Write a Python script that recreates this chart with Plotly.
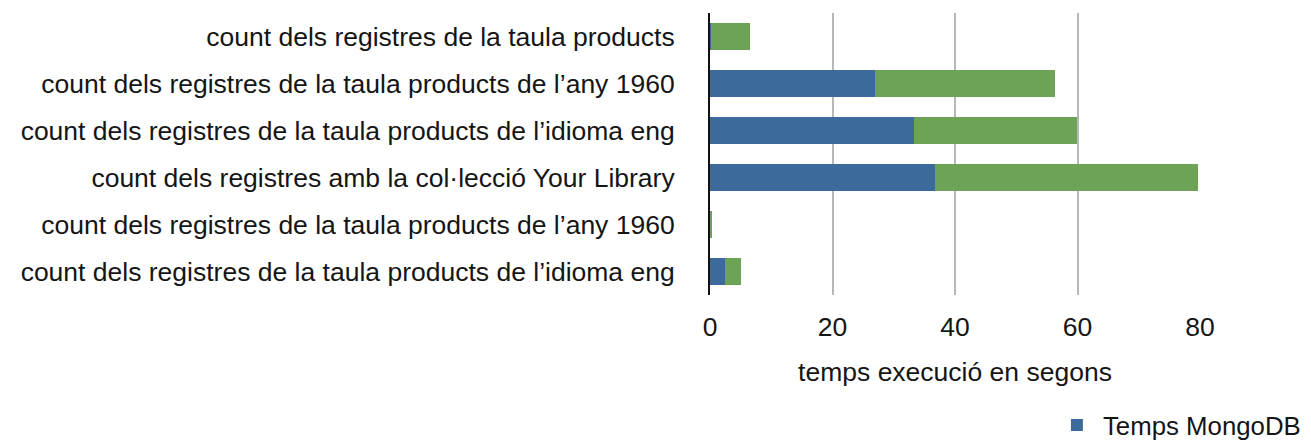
import plotly.graph_objects as go

categories = [
    "count dels registres de la taula products",
    "count dels registres de la taula products de l’any 1960",
    "count dels registres de la taula products de l’idioma eng",
    "count dels registres amb la col·lecció Your Library",
    "count dels registres de la taula products de l’any 1960",
    "count dels registres de la taula products de l’idioma eng",
]
temps_mongodb = [0.1, 27.0, 33.3, 36.7, 0.0, 2.4]
temps_altre = [6.5, 29.4, 26.6, 43.0, 0.3, 2.6]

# numeric positions, because two labels repeat
pos = list(range(1, len(categories) + 1))

fig = go.Figure()
fig.add_trace(go.Bar(
    y=pos, x=temps_mongodb, orientation="h",
    name="Temps MongoDB", marker=dict(color="#3c6a9a", line=dict(width=0)),
))
fig.add_trace(go.Bar(
    y=pos, x=temps_altre, orientation="h",
    name="Temps", showlegend=False,
    marker=dict(color="#6da357", line=dict(width=0)),
))

fig.update_layout(
    barmode="stack",
    bargap=0.44,
    width=1311, height=440,
    margin=dict(l=702, r=119, t=5, b=153),
    paper_bgcolor="white", plot_bgcolor="white",
    font=dict(family="Liberation Sans, Arial, sans-serif", size=26.5, color="#151515"),
    legend=dict(
        orientation="h", xref="container", yref="container",
        x=0.7955, xanchor="left", y=0.052, yanchor="middle",
        itemwidth=42,
        font=dict(size=25.8), bgcolor="rgba(0,0,0,0)",
    ),
)
fig.update_xaxes(
    range=[0, 80], dtick=20, automargin=False,
    showgrid=True, gridcolor="#b8b8b8", gridwidth=2,
    zeroline=False, showline=False,
    ticklabelstandoff=13,
    title=dict(text="temps execució en segons", standoff=21, font=dict(size=26.5)),
)
fig.update_yaxes(
    range=[6.5, 0.5], automargin=False,
    tickmode="array", tickvals=pos, ticktext=categories,
    showgrid=False, zeroline=False,
    showline=True, linecolor="#111111", linewidth=2,
    ticklabelstandoff=28,
)

fig.write_html("out.html")
